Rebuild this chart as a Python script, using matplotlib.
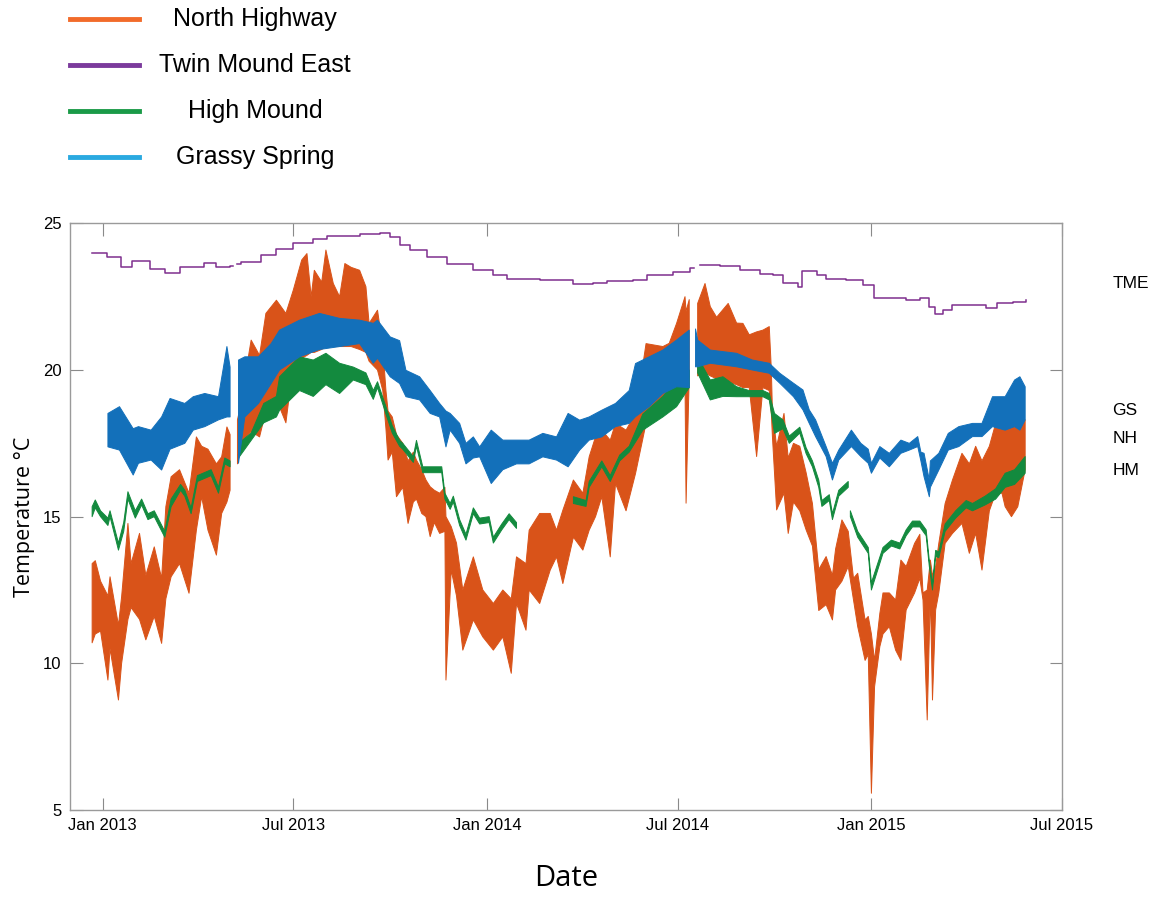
import numpy as np
import pandas as pd
import matplotlib
matplotlib.use("Agg")
import matplotlib.pyplot as plt
import matplotlib.dates as mdates
import matplotlib.transforms as mtransforms
from matplotlib.lines import Line2D

nan = np.nan

# Twin Mound East (logger steps)
tme_dates = ["2012-12-22", "2013-01-05", "2013-01-18", "2013-01-29", "2013-02-15", "2013-03-01",
             "2013-03-15", "2013-04-07", "2013-04-19", "2013-05-02", "2013-05-05", "2013-05-09",
             "2013-05-12", "2013-05-31", "2013-06-15", "2013-07-01", "2013-07-20", "2013-08-02",
             "2013-08-18", "2013-09-02", "2013-09-21", "2013-10-01", "2013-10-10", "2013-10-20",
             "2013-11-05", "2013-11-24", "2013-12-19", "2014-01-07", "2014-01-20", "2014-02-20",
             "2014-03-24", "2014-04-12", "2014-04-25", "2014-05-20", "2014-06-02", "2014-06-27",
             "2014-07-13", "2014-07-17", "2014-07-22", "2014-08-10", "2014-08-29", "2014-09-17",
             "2014-09-30", "2014-10-09", "2014-10-23", "2014-10-27", "2014-11-10", "2014-11-19",
             "2014-12-08", "2014-12-24", "2015-01-03", "2015-02-03", "2015-02-16", "2015-02-25",
             "2015-03-02", "2015-03-10", "2015-03-19", "2015-04-04", "2015-04-20", "2015-04-30",
             "2015-05-15", "2015-05-28"]
tme_vals = [24.0, 23.86, 23.52, 23.73, 23.43, 23.32,
            23.5, 23.64, 23.5, 23.55, nan, 23.6,
            23.69, 23.92, 24.11, 24.32, 24.45, 24.57,
            24.57, 24.64, 24.66, 24.52, 24.26, 24.09,
            23.86, 23.61, 23.41, 23.24, 23.1, 23.07,
            22.93, 22.95, 23.04, 23.06, 23.23, 23.35,
            23.47, nan, 23.58, 23.56, 23.41, 23.27,
            23.25, 22.95, 22.82, 23.37, 23.24, 23.1,
            23.07, 22.9, 22.44, 22.39, 22.44, 22.16,
            21.91, 22.04, 22.21, 22.22, 22.1, 22.27,
            22.33, 22.39]

# North Highway: daily low / high
nh_dates = ["2012-12-22", "2012-12-25", "2012-12-30", "2013-01-06", "2013-01-08", "2013-01-16",
            "2013-01-19", "2013-01-25", "2013-01-28", "2013-02-05", "2013-02-11", "2013-02-19",
            "2013-02-26", "2013-03-02", "2013-03-07", "2013-03-15", "2013-03-24", "2013-03-31",
            "2013-04-05", "2013-04-11", "2013-04-19", "2013-04-24", "2013-04-29", "2013-05-02",
            "2013-05-05", "2013-05-09", "2013-05-11", "2013-05-22", "2013-05-30", "2013-06-05",
            "2013-06-15", "2013-06-24", "2013-07-01", "2013-07-09", "2013-07-14", "2013-07-18",
            "2013-07-21", "2013-07-28", "2013-08-01", "2013-08-08", "2013-08-14", "2013-08-19",
            "2013-08-25", "2013-09-02", "2013-09-08", "2013-09-11", "2013-09-19", "2013-09-24",
            "2013-09-27", "2013-09-29", "2013-10-03", "2013-10-07", "2013-10-13", "2013-10-18",
            "2013-10-23", "2013-10-26", "2013-10-31", "2013-11-04", "2013-11-08", "2013-11-12",
            "2013-11-17", "2013-11-22", "2013-11-23", "2013-11-28", "2013-12-03", "2013-12-09",
            "2013-12-19", "2013-12-28", "2014-01-07", "2014-01-16", "2014-01-24", "2014-01-29",
            "2014-02-07", "2014-02-10", "2014-02-20", "2014-03-02", "2014-03-08", "2014-03-14",
            "2014-03-24", "2014-04-02", "2014-04-08", "2014-04-14", "2014-04-20", "2014-04-28",
            "2014-05-03", "2014-05-13", "2014-05-22", "2014-06-01", "2014-06-17", "2014-06-23",
            "2014-06-30", "2014-07-08", "2014-07-09", "2014-07-12", "2014-07-15", "2014-07-20",
            "2014-07-27", "2014-08-01", "2014-08-07", "2014-08-18", "2014-08-26", "2014-09-01",
            "2014-09-07", "2014-09-14", "2014-09-20", "2014-09-26", "2014-09-28", "2014-09-29",
            "2014-10-03", "2014-10-10", "2014-10-14", "2014-10-19", "2014-10-25", "2014-10-31",
            "2014-11-06", "2014-11-12", "2014-11-19", "2014-11-25", "2014-11-28", "2014-12-04",
            "2014-12-10", "2014-12-15", "2014-12-19", "2014-12-26", "2014-12-29", "2015-01-01",
            "2015-01-04", "2015-01-09", "2015-01-12", "2015-01-18", "2015-01-24", "2015-01-29",
            "2015-02-03", "2015-02-11", "2015-02-16", "2015-02-19", "2015-02-23", "2015-02-26",
            "2015-02-28", "2015-03-03", "2015-03-06", "2015-03-12", "2015-03-19", "2015-03-28",
            "2015-04-04", "2015-04-10", "2015-04-16", "2015-04-23", "2015-04-29", "2015-05-05",
            "2015-05-08", "2015-05-14", "2015-05-20", "2015-05-27"]
nh_lo = [10.7, 11.0, 11.1, 9.43, 10.5, 8.75,
         10.0, 11.5, 11.9, 11.5, 10.8, 11.6,
         10.68, 12.2, 12.95, 13.4, 12.39, 14.54,
         15.68, 14.54, 13.69, 15.11, 15.5, 15.9,
         nan, 16.8, 17.5, 17.9, 17.72, 18.6,
         19.0, 18.2, 20.2, 20.4, 20.5, 20.6,
         20.6, 20.7, 20.8, 20.8, 20.8, 20.8,
         20.8, 20.7, 20.6, 20.3, 20.0, 19.3,
         18.0, 16.93, 17.2, 15.68, 16.0, 14.77,
         15.5, 15.6, 15.11, 15.0, 14.32, 14.8,
         14.43, 14.5, 9.43, 13.18, 12.3, 10.45,
         11.48, 10.9, 10.45, 10.9, 9.66, 12.04,
         11.13, 12.5, 12.04, 13.18, 13.63, 12.72,
         14.3, 13.86, 14.54, 15.0, 15.68, 13.63,
         16.13, 15.2, 16.47, 18.18, 18.86, 19.1,
         19.4, 19.6, 15.46, 19.8, nan, 19.8,
         19.9, 19.8, 19.7, 19.6, 19.5, 19.4,
         19.4, 17.05, 19.4, 19.3, 18.5, 17.73,
         15.23, 15.8, 14.43, 15.5, 15.2, 14.55,
         14.0, 11.8, 12.0, 11.48, 12.5, 12.8,
         13.3, 12.16, 11.25, 10.1, 10.3, 5.57,
         9.2, 10.57, 11.0, 11.25, 10.45, 10.1,
         11.82, 12.4, 12.9, 12.16, 8.07, 12.4,
         8.75, 11.82, 12.4, 14.09, 14.43, 14.77,
         13.75, 14.43, 13.18, 15.2, 15.8, 15.8,
         15.34, 15.0, 15.34, 16.6]
nh_hi = [13.4, 13.5, 12.8, 12.3, 12.95, 11.3,
         12.27, 14.77, 13.4, 14.43, 13.0, 13.97,
         12.9, 15.34, 16.36, 16.6, 15.8, 17.72,
         17.4, 17.3, 16.8, 17.04, 18.06, 17.8,
         nan, 18.3, 18.63, 21.02, 20.5, 21.93,
         22.38, 21.93, 22.72, 23.75, 23.97, 22.5,
         23.4, 23.0, 24.09, 22.95, 22.5, 23.63,
         23.5, 23.4, 22.84, 21.59, 22.04, 20.8,
         19.3, 18.6, 18.4, 17.8, 17.5, 16.9,
         17.2, 16.93, 16.6, 16.25, 16.02, 15.9,
         15.8, 16.0, 15.0, 14.66, 14.1, 12.5,
         13.63, 12.5, 12.04, 12.5, 12.2, 13.63,
         13.4, 14.54, 15.11, 15.11, 14.54, 15.22,
         16.25, 15.8, 17.04, 17.72, 17.95, 17.61,
         18.18, 17.95, 18.52, 20.9, 20.8, 20.91,
         21.59, 22.5, 22.0, 22.4, nan, 22.27,
         22.95, 22.16, 21.8, 22.27, 21.6, 21.59,
         21.2, 21.3, 21.36, 21.48, 20.0, 18.6,
         17.4, 18.52, 17.0, 17.5, 17.4, 16.5,
         15.45, 13.2, 13.64, 13.0, 13.9, 14.89,
         14.5, 12.9, 13.07, 11.48, 11.6, 11.0,
         10.1, 11.7, 12.4, 12.4, 12.16, 13.52,
         13.3, 14.09, 14.4, 12.4, 12.5, 13.52,
         13.0, 13.3, 14.09, 15.45, 16.25, 17.16,
         16.8, 17.4, 16.9, 17.4, 18.18, 18.4,
         18.07, 18.6, 18.3, 18.3]

# High Mound: daily low / high
hm_dates = ["2012-12-22", "2012-12-25", "2012-12-30", "2013-01-06", "2013-01-08", "2013-01-16",
            "2013-01-21", "2013-01-25", "2013-02-01", "2013-02-07", "2013-02-13", "2013-02-19",
            "2013-03-01", "2013-03-07", "2013-03-16", "2013-03-20", "2013-03-26", "2013-04-01",
            "2013-04-14", "2013-04-21", "2013-04-27", "2013-05-02", "2013-05-05", "2013-05-10",
            "2013-05-22", "2013-06-03", "2013-06-15", "2013-06-18", "2013-07-07", "2013-07-20",
            "2013-08-01", "2013-08-14", "2013-08-27", "2013-09-08", "2013-09-15", "2013-09-19",
            "2013-09-27", "2013-10-03", "2013-10-10", "2013-10-13", "2013-10-23", "2013-10-26",
            "2013-11-01", "2013-11-08", "2013-11-12", "2013-11-19", "2013-11-22", "2013-11-27",
            "2013-11-30", "2013-12-06", "2013-12-12", "2013-12-19", "2013-12-25", "2014-01-03",
            "2014-01-07", "2014-01-15", "2014-01-22", "2014-01-29", "2014-02-15", "2014-03-24",
            "2014-04-05", "2014-04-08", "2014-04-20", "2014-04-28", "2014-05-07", "2014-05-16",
            "2014-05-29", "2014-06-17", "2014-06-30", "2014-07-12", "2014-07-15", "2014-07-20",
            "2014-08-01", "2014-08-13", "2014-08-26", "2014-09-07", "2014-09-20", "2014-09-26",
            "2014-10-01", "2014-10-09", "2014-10-15", "2014-10-25", "2014-10-31", "2014-11-06",
            "2014-11-12", "2014-11-15", "2014-11-22", "2014-11-25", "2014-12-01", "2014-12-10",
            "2014-12-11", "2014-12-12", "2014-12-19", "2014-12-29", "2015-01-01", "2015-01-12",
            "2015-01-20", "2015-01-28", "2015-02-03", "2015-02-09", "2015-02-16", "2015-02-22",
            "2015-02-25", "2015-02-28", "2015-03-03", "2015-03-06", "2015-03-12", "2015-03-22",
            "2015-04-01", "2015-04-07", "2015-04-19", "2015-04-29", "2015-05-08", "2015-05-17",
            "2015-05-27"]
hm_lo = [15.0, 15.3, 15.0, 14.7, 15.0, 13.86,
         14.5, 15.6, 14.95, 15.4, 14.9, 15.0,
         14.3, 15.34, 15.9, 15.7, 15.1, 16.2,
         16.4, 15.8, 16.8, 16.7, nan, 17.0,
         17.6, 18.2, 18.4, 18.63, 19.3, 19.1,
         19.5, 19.2, 19.66, 19.5, 19.0, 19.4,
         18.5, 17.85, 17.4, 17.3, 16.85, 17.4,
         16.5, 16.5, 16.5, 16.5, 15.6, 15.25,
         15.5, 14.7, 14.2, 15.1, 14.75, 14.8,
         14.1, 14.55, 14.9, 14.6, nan, 15.45,
         15.35, 16.0, 16.7, 16.2, 16.9, 17.2,
         17.95, 18.4, 18.75, 19.4, nan, 19.9,
         18.98, 19.1, 19.09, 19.09, 19.09, 18.98,
         17.84, 18.0, 17.5, 17.85, 17.15, 16.7,
         16.0, 15.35, 15.55, 14.9, 15.7, 16.0,
         nan, 15.0, 14.3, 13.75, 12.5, 13.75,
         14.0, 13.9, 14.35, 14.65, 14.65, 14.35,
         13.3, 12.5, 13.65, 13.6, 14.5, 14.95,
         15.3, 15.2, 15.4, 15.6, 16.0, 16.1,
         16.48]
hm_hi = [15.34, 15.57, 15.2, 14.95, 15.2, 14.1,
         14.8, 15.85, 15.2, 15.6, 15.1, 15.2,
         14.5, 15.6, 16.1, 15.9, 15.3, 16.4,
         16.6, 16.0, 17.0, 16.9, nan, 17.5,
         17.85, 18.86, 19.1, 19.77, 20.45, 20.34,
         20.57, 20.23, 20.1, 19.9, 19.3, 19.6,
         18.75, 18.1, 17.6, 17.5, 17.05, 17.6,
         16.7, 16.7, 16.7, 16.7, 15.8, 15.45,
         15.7, 14.9, 14.4, 15.3, 14.95, 15.0,
         14.3, 14.75, 15.1, 14.8, nan, 15.68,
         15.55, 16.2, 16.9, 16.4, 17.1, 17.4,
         18.5, 19.1, 19.66, 20.0, nan, 20.45,
         19.66, 19.77, 19.43, 19.3, 19.3, 19.2,
         18.52, 18.3, 17.75, 18.05, 17.35, 16.9,
         16.25, 15.55, 15.75, 15.1, 15.9, 16.2,
         nan, 15.2, 14.5, 13.95, 12.75, 13.95,
         14.2, 14.1, 14.55, 14.85, 14.85, 14.55,
         13.5, 12.7, 13.85, 13.8, 14.75, 15.2,
         15.55, 15.45, 15.7, 15.95, 16.48, 16.6,
         17.05]

# Grassy Spring: daily low / high
gs_dates = ["2013-01-06", "2013-01-17", "2013-01-30", "2013-02-04", "2013-02-16", "2013-02-26",
            "2013-03-06", "2013-03-20", "2013-03-28", "2013-04-08", "2013-04-21", "2013-04-29",
            "2013-05-02", "2013-05-06", "2013-05-10", "2013-05-16", "2013-05-29", "2013-06-10",
            "2013-06-18", "2013-07-07", "2013-07-26", "2013-08-14", "2013-09-02", "2013-09-15",
            "2013-09-19", "2013-10-01", "2013-10-10", "2013-10-16", "2013-10-29", "2013-11-08",
            "2013-11-17", "2013-11-23", "2013-11-27", "2013-12-06", "2013-12-12", "2013-12-19",
            "2013-12-25", "2014-01-05", "2014-01-16", "2014-01-29", "2014-02-10", "2014-02-23",
            "2014-03-08", "2014-03-19", "2014-03-30", "2014-04-08", "2014-04-20", "2014-05-03",
            "2014-05-16", "2014-05-22", "2014-06-04", "2014-06-17", "2014-06-30", "2014-07-12",
            "2014-07-15", "2014-07-18", "2014-07-20", "2014-08-01", "2014-08-26", "2014-09-10",
            "2014-09-26", "2014-10-06", "2014-10-19", "2014-10-28", "2014-11-03", "2014-11-09",
            "2014-11-19", "2014-11-25", "2014-12-01", "2014-12-13", "2014-12-22", "2014-12-29",
            "2015-01-01", "2015-01-09", "2015-01-18", "2015-01-29", "2015-02-06", "2015-02-14",
            "2015-02-17", "2015-02-20", "2015-02-25", "2015-02-26", "2015-03-06", "2015-03-15",
            "2015-03-25", "2015-04-07", "2015-04-16", "2015-04-26", "2015-05-08", "2015-05-17",
            "2015-05-22", "2015-05-27"]
gs_lo = [17.38, 17.27, 16.42, 16.82, 16.93, 16.59,
         17.3, 17.5, 17.95, 18.07, 18.3, 18.4,
         18.4, nan, 16.82, 18.4, 18.86, 19.54,
         20.0, 20.45, 20.7, 20.8, 20.9, 20.23,
         20.4, 19.77, 19.54, 19.09, 18.98, 18.52,
         18.4, 17.38, 17.95, 17.5, 16.8, 17.0,
         17.04, 16.13, 16.6, 16.8, 16.8, 17.04,
         16.93, 16.7, 17.27, 17.61, 17.72, 18.07,
         18.18, 18.41, 18.75, 19.2, 19.43, 19.4,
         nan, 20.11, 20.11, 20.23, 20.11, 20.0,
         19.89, 19.55, 19.09, 18.64, 18.18, 17.73,
         17.05, 16.25, 16.93, 17.39, 17.05, 16.82,
         16.48, 17.0, 16.7, 17.16, 17.27, 17.39,
         16.9, 16.36, 15.68, 16.0, 16.59, 17.27,
         17.39, 17.73, 17.73, 18.07, 17.95, 18.07,
         17.95, 18.3]
gs_hi = [18.52, 18.75, 18.0, 18.07, 17.95, 18.4,
         19.03, 18.86, 19.09, 19.2, 19.09, 20.8,
         20.1, nan, 20.34, 20.45, 20.45, 20.9,
         21.36, 21.7, 21.93, 21.76, 21.7, 21.59,
         21.7, 21.13, 21.0, 19.99, 19.77, 19.3,
         18.86, 18.6, 18.52, 18.18, 17.5, 17.72,
         17.38, 17.95, 17.61, 17.61, 17.61, 17.84,
         17.72, 18.52, 18.29, 18.4, 18.63, 18.86,
         19.3, 20.22, 20.45, 20.68, 21.02, 21.36,
         nan, 21.4, 21.02, 20.68, 20.57, 20.34,
         20.23, 19.89, 19.55, 19.32, 18.64, 18.3,
         17.39, 16.82, 17.27, 17.95, 17.5, 17.3,
         16.82, 17.39, 17.16, 17.61, 17.5, 17.73,
         17.2, 17.16, 16.25, 16.9, 17.16, 17.84,
         18.07, 18.18, 18.18, 19.09, 19.09, 19.66,
         19.77, 19.43]

legend_names = ["North Highway", "Twin Mound East", "High Mound", "Grassy Spring"]
legend_colors = ["#F26B2A", "#7B3A9C", "#1A9A48", "#2AA9E0"]
site_labels = ["TME", "GS", "NH", "HM"]
site_label_y = [22.96, 18.63, 17.67, 16.59]

c_nh = "#D95319"
c_tme = "#7E2F8E"
c_hm = "#138A3E"
c_gs = "#1370BA"

fig = plt.figure(figsize=(11.65, 8.97), dpi=100)
ax = fig.add_axes([0.0601, 0.097, 0.8515, 0.654])

d = pd.to_datetime(nh_dates)
ax.fill_between(d, nh_lo, nh_hi, color=c_nh, lw=0.7, edgecolor=c_nh)
d = pd.to_datetime(tme_dates)
ax.plot(d, tme_vals, color=c_tme, lw=1.1, drawstyle="steps-post")
d = pd.to_datetime(hm_dates)
ax.fill_between(d, hm_lo, hm_hi, color=c_hm, lw=0.7, edgecolor=c_hm)
d = pd.to_datetime(gs_dates)
ax.fill_between(d, gs_lo, gs_hi, color=c_gs, lw=0.7, edgecolor=c_gs)

ax.set_xlim(pd.Timestamp("2012-12-01"), pd.Timestamp("2015-07-01"))
ax.set_ylim(5, 25)
ax.set_yticks([5, 10, 15, 20, 25])
ax.xaxis.set_major_locator(mdates.MonthLocator(bymonth=[1, 7]))
ax.xaxis.set_major_formatter(mdates.DateFormatter("%b %Y"))

for s in ax.spines.values():
    s.set_color("#9A9A9A")
    s.set_linewidth(1.0)
ax.tick_params(direction="in", length=9, width=0.8, color="#8A8A8A",
               top=True, right=True, labelsize=12, pad=6)
for lab in ax.get_xticklabels() + ax.get_yticklabels():
    lab.set_fontfamily("Liberation Sans")

ax.set_ylabel("Temperature \u00b0C", fontsize=15.5, family="Open Sans", labelpad=6)
ax.set_xlabel("Date", fontsize=21, family="Open Sans", labelpad=22)

trans = mtransforms.blended_transform_factory(ax.transAxes, ax.transData)
for lab, yv in zip(site_labels, site_label_y):
    ax.text(1.051, yv, lab, transform=trans, fontsize=12.5, family="Liberation Sans",
            ha="left", va="center")

# legend above the plot, upper left
row_y = [19, 65, 111, 157]
for name, col, yp in zip(legend_names, legend_colors, row_y):
    yf = 1 - yp / 897
    fig.add_artist(Line2D([70 / 1165, 139 / 1165], [yf, yf], color=col, lw=3.5,
                          transform=fig.transFigure))
    fig.text(255 / 1165, yf, name, fontsize=18, family="Liberation Sans",
             ha="center", va="center")

fig.savefig("out.png", dpi=100)
